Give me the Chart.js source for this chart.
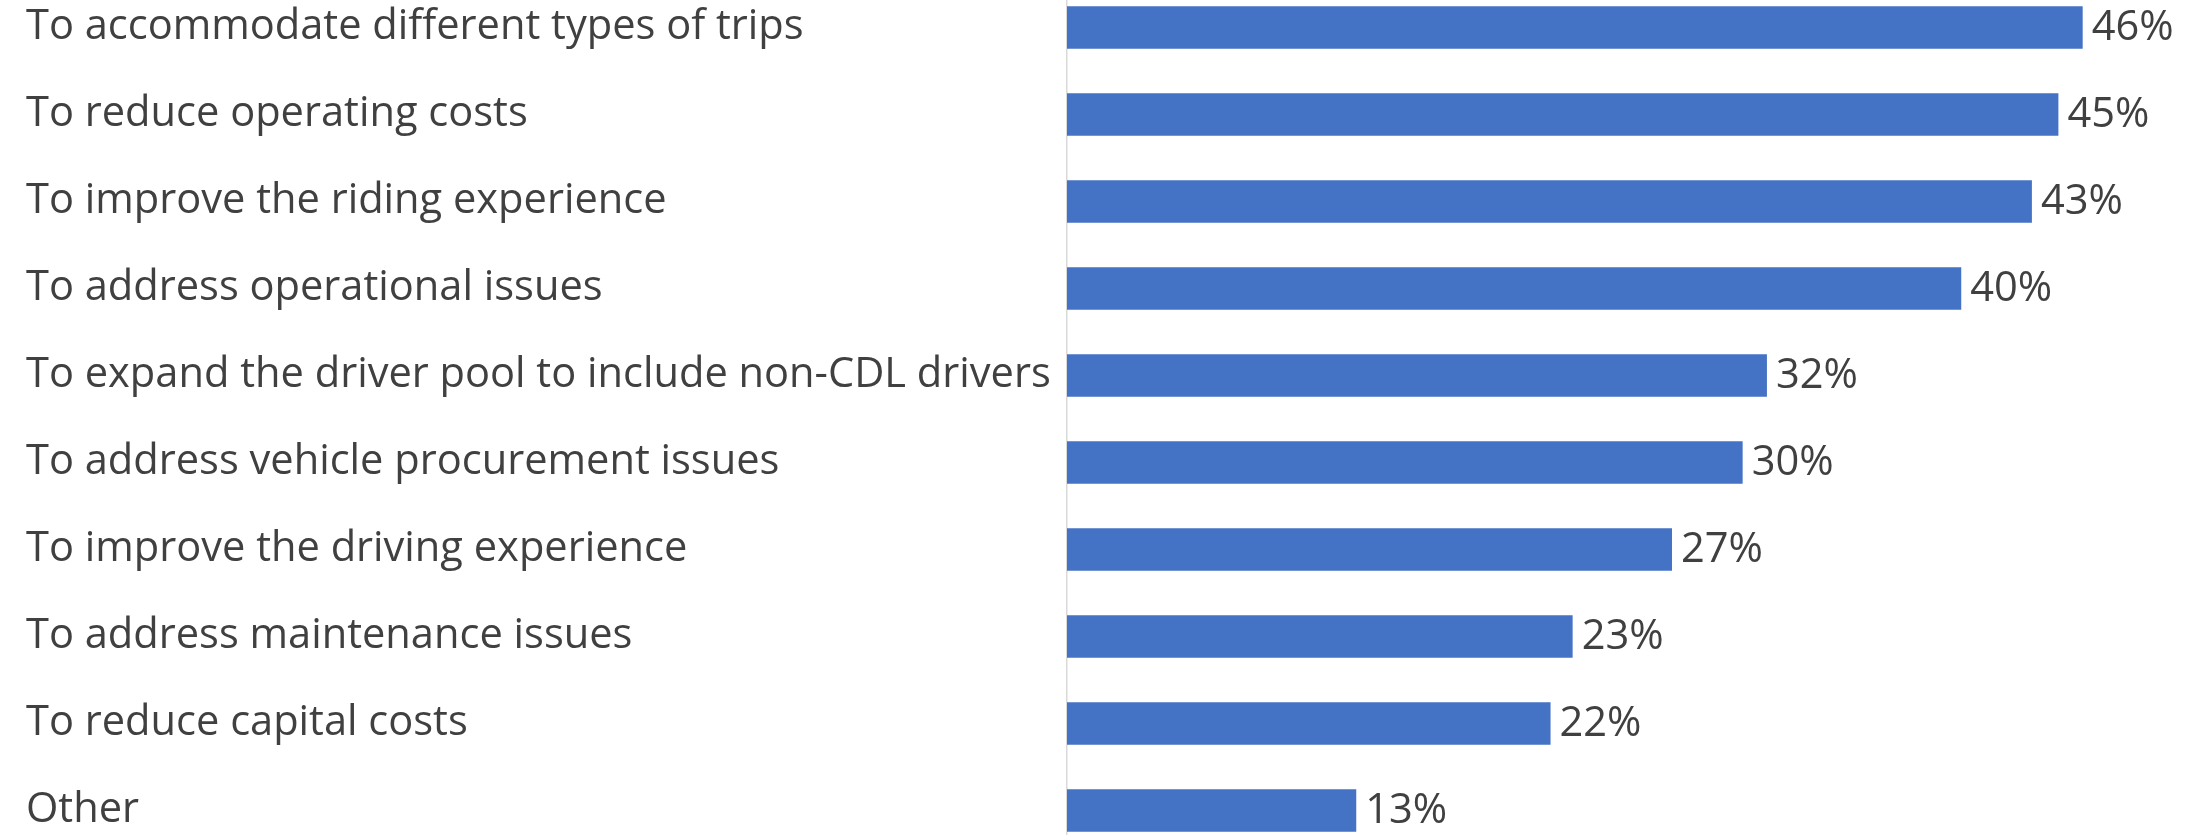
<!DOCTYPE html>
<html>
<head>
<meta charset="utf-8">
<script src="https://cdn.jsdelivr.net/npm/chart.js@4.4.1/dist/chart.umd.min.js"></script>
<style>
  html, body { margin: 0; padding: 0; background: #ffffff; overflow: hidden; }
  body { width: 2201px; height: 835px; position: relative; }
  #wrap { position: absolute; left: 0; top: -16px; width: 2201px; height: 870px; }
</style>
</head>
<body>
<div id="wrap"><canvas id="bar-chart"></canvas></div>
<script>
// Categorias (de cima para baixo)
const reasons = [
    'To accommodate different types of trips',
    'To reduce operating costs',
    'To improve the riding experience',
    'To address operational issues',
    'To expand the driver pool to include non-CDL drivers',
    'To address vehicle procurement issues',
    'To improve the driving experience',
    'To address maintenance issues',
    'To reduce capital costs',
    'Other'
];

// Valores estimados a partir do comprimento das barras (%)
const shares = [46.0, 44.9, 43.7, 40.5, 31.7, 30.6, 27.4, 22.9, 21.9, 13.1];

// Rótulos mostrados ao lado das barras
const shareLabels = ['46%', '45%', '43%', '40%', '32%', '30%', '27%', '23%', '22%', '13%'];

const textColor = '#404040';
const barColor = '#4472C4';
const fontSize = 41.6;
const labelFont = fontSize + 'px "Open Sans"';

// Plugin simples para escrever o valor à direita de cada barra
const valueLabels = {
    id: 'valueLabels',
    afterDatasetsDraw(chart) {
        const ctx = chart.ctx;
        const meta = chart.getDatasetMeta(0);
        ctx.save();
        ctx.font = labelFont;
        ctx.fillStyle = textColor;
        ctx.textAlign = 'left';
        ctx.textBaseline = 'middle';
        meta.data.forEach((bar, i) => {
            ctx.fillText(shareLabels[i], bar.x + 9, bar.y + 1);
        });
        ctx.restore();
    }
};

function createBarChart() {
    const ctx = document.getElementById('bar-chart').getContext('2d');

    return new Chart(ctx, {
        type: 'bar',
        data: {
            labels: reasons,
            datasets: [{
                data: shares,
                backgroundColor: barColor,
                borderWidth: 0,
                barPercentage: 0.49,
                categoryPercentage: 1
            }]
        },
        options: {
            indexAxis: 'y',
            responsive: true,
            maintainAspectRatio: false,
            animation: false,
            layout: {
                padding: { left: 26, right: 30, top: 0, bottom: 0 }
            },
            plugins: {
                legend: { display: false },
                tooltip: { enabled: false }
            },
            scales: {
                x: {
                    display: false,
                    min: 0,
                    max: 50
                },
                y: {
                    grid: { display: false, drawTicks: false },
                    border: { display: true, color: '#d9d9d9', width: 1.5 },
                    ticks: {
                        crossAlign: 'far',
                        padding: 0,
                        color: textColor,
                        // lineHeight pequeno para o eixo não reservar margem vertical
                        font: { family: '"Open Sans"', size: fontSize, lineHeight: 0.2 }
                    },
                    afterFit: function(scale) {
                        scale.width = 1041;
                        scale.paddingTop = 0;
                        scale.paddingBottom = 0;
                    }
                }
            }
        },
        plugins: [valueLabels]
    });
}

createBarChart();
</script>
</body>
</html>
